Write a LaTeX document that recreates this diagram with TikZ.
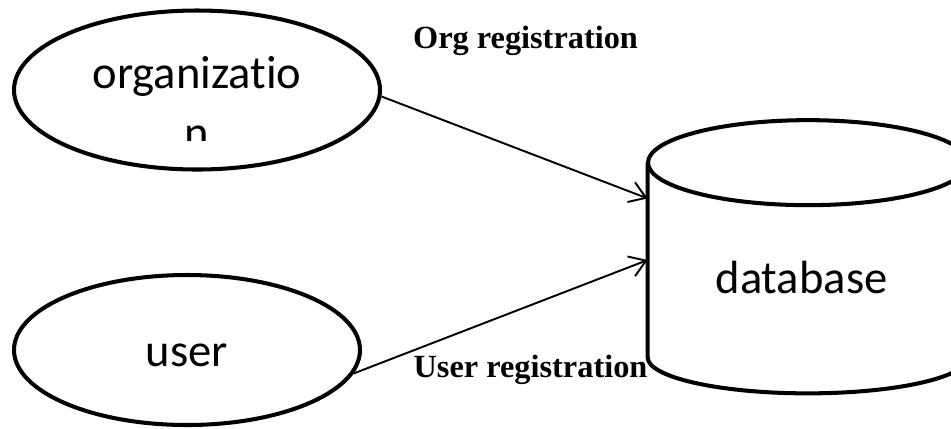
\documentclass[tikz,border=0pt]{standalone}
\usepackage{fontspec}
\newfontfamily\calibrifont[Ligatures=NoCommon]{Carlito}
\newfontfamily\timesfont{Liberation Serif}
\usepackage{tikz}
\usetikzlibrary{shapes.geometric, arrows.meta, positioning}
\tikzset{
  entitybox/.style={ellipse, draw=black, line width=2.3pt, inner sep=0pt, font=\calibrifont\fontsize{26.5}{32}\selectfont},
  storebody/.style={rectangle, inner sep=0pt, minimum width=6.4cm, minimum height=3.88cm},
  storeline/.style={draw=black, line width=2.3pt, line join=round},
  nametext/.style={inner sep=0pt, anchor=base, font=\calibrifont\fontsize{26.5}{32}\selectfont},
  flowlabel/.style={inner sep=0pt, anchor=base, font=\timesfont\bfseries\fontsize{18.4}{22}\selectfont},
  arrow/.style={-{Straight Barb[length=9pt, width=12pt]}, line width=1.1pt, black}
}
\begin{document}
\begin{tikzpicture}
  \useasboundingbox (0,0) rectangle (19.02,-8.56);

  % Entities
  \node[entitybox, minimum width=7.32cm, minimum height=3.18cm] (org) at (3.94,-1.80) {};
  \begin{scope}
    \clip (0,0) rectangle (8,-2.80);
    \node[nametext] (orgline1) at (3.94,-1.76) {organizatio};
    \node[nametext] (orgline2) at (3.94,-2.96) {n};
  \end{scope}
  \node[entitybox, minimum width=6.92cm, minimum height=3.00cm, text height=0.66cm, text depth=0pt] (user) at (3.74,-7.00) {user};

  % Store
  \node[storebody] (db) at (16.16,-5.20) {};
  \draw[storeline] (db.north west) -- (db.south west)
    arc[start angle=180, end angle=360, x radius=3.2cm, y radius=0.72cm]
    -- (db.north east);
  \draw[storeline] (db.north) ellipse[x radius=3.2cm, y radius=0.85cm];
  \node[nametext] (dbtext) at (16.03,-5.86) {database};

  % Flows
  \draw[arrow] (org.-2) -- (db.159);
  \draw[arrow] (user.-8) -- (db.west);
  \node[flowlabel] (orgflow) at (10.51,-0.96) {Org registration};
  \node[flowlabel] (userflow) at (10.61,-7.54) {User registration};
\end{tikzpicture}
\end{document}
